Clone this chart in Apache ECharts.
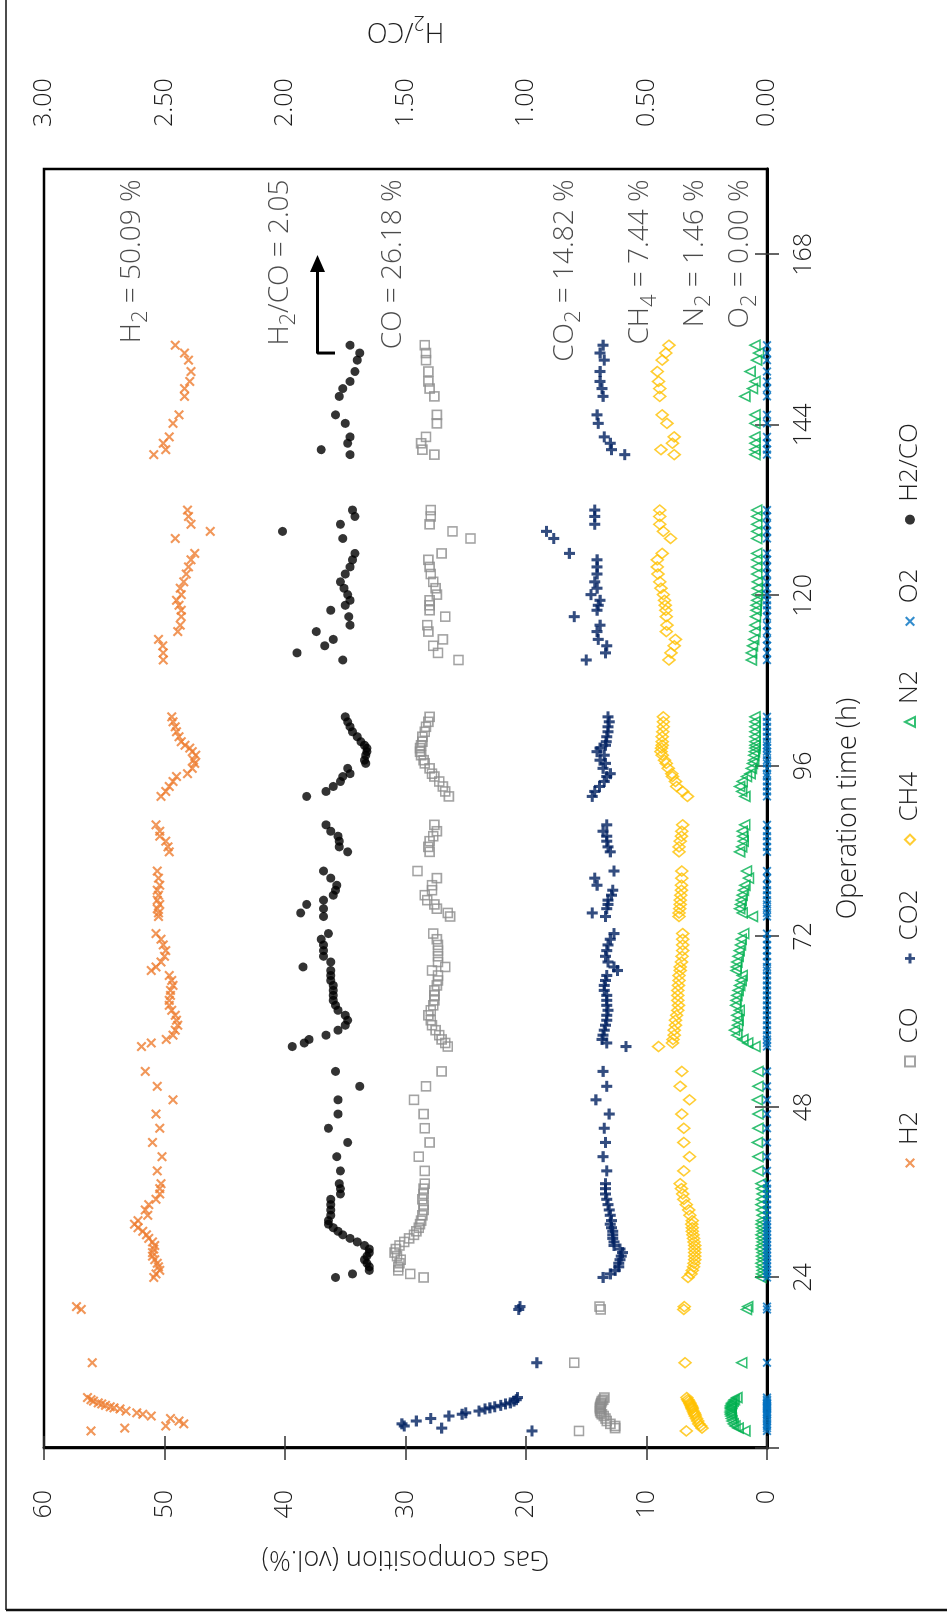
<!DOCTYPE html>
<html>
<head>
<meta charset="utf-8">
<script src="https://cdn.jsdelivr.net/npm/echarts@6/dist/echarts.min.js"></script>
<style>
  html, body { margin: 0; padding: 0; background: #fff; width: 947px; height: 1619px; overflow: hidden; }
  /* the chart is laid out landscape and turned a quarter turn counter-clockwise */
  #chart { position: absolute; left: 0; top: 0; width: 1619px; height: 947px;
           transform-origin: 0 0; transform: translate(0, 1619px) rotate(-90deg); }
</style>
</head>
<body>
<div id="chart"></div>
<script>
// Operation time of each gas sample (h)
const hours = [
  2.4, 2.8, 3.1, 3.4, 3.8, 4.15, 4.5, 4.75, 4.95, 5.2, 5.5, 5.65, 5.8, 6.0, 6.2, 6.35, 6.6, 6.8, 7.1,
  12.0, 19.5, 19.9,
  24.0, 24.5, 25.0, 25.5, 26.0, 26.5, 27.0, 27.5, 28.0, 28.5, 29.0, 29.5, 30.0, 30.5, 31.0, 31.5, 32.0, 32.75, 33.5, 34.25, 35.0, 35.75, 36.5, 37.2,
  39.0, 41.0, 43.0, 45.0, 47.0, 49.0, 50.9, 53.0,
  56.5, 57.0, 57.5, 58.1, 58.8, 59.5, 60.2, 60.9, 61.6, 62.3, 63.0, 63.7, 64.4, 65.1, 65.8, 66.5, 67.2, 67.7, 68.4, 69.2, 70.0, 70.8, 71.6, 72.4,
  74.8, 75.3, 75.9, 76.5, 77.1, 77.8, 78.5, 79.2, 80.2, 81.2,
  83.9, 84.6, 85.4, 86.1, 86.8, 87.7,
  91.7, 92.4, 93.1, 93.8, 94.5, 94.9, 95.65, 96.35, 96.8, 97.5, 98.0, 98.5, 98.9, 99.4, 100.1, 100.8, 101.5, 102.2, 102.9,
  110.9, 111.9, 112.9, 113.8, 114.9, 115.8, 117.0, 117.9, 118.6, 119.3, 120.1, 121.0, 121.9, 123.0, 124.0, 125.0, 125.9, 128.0, 129.0, 130.0, 131.1, 132.0,
  139.8, 140.5, 141.4, 142.3, 144.2, 145.4, 148.0, 149.1, 150.1, 151.5, 153.1, 154.1, 155.2
];

// Gas composition (vol.%)
const h2 = [
  56.1, 53.3, 49.9, 48.4, 48.8, 49.5, 51.1, 51.8, 52.3, 53.2, 53.7, 54.2, 54.5, 54.9, 55.2, 55.5, 55.9, 56.1, 56.4,
  56.0, 56.9, 57.3,
  50.9, 50.7, 50.4, 50.5, 50.6, 50.8, 51.0, 51.0, 50.9, 50.8, 51.0, 51.3, 51.5, 51.8, 52.2, 52.5, 52.2, 51.4, 51.6, 51.3, 50.7, 50.4, 50.4, 50.3,
  50.6, 50.2, 51.0, 50.4, 50.7, 49.3, 50.6, 51.6,
  51.9, 51.1, 49.85, 49.3, 49.1, 48.9, 49.0, 49.1, 49.4, 49.6, 49.6, 49.5, 49.5, 49.3, 49.4, 49.6, 51.1, 50.7, 50.3, 50.0, 49.9, 50.1, 50.3, 50.7,
  50.5, 50.5, 50.6, 50.4, 50.6, 50.5, 50.6, 50.4, 50.5, 50.6,
  49.6, 49.7, 49.9, 50.4, 50.4, 50.7,
  50.3, 49.9, 49.6, 49.3, 49.0, 48.1, 47.7, 47.5, 47.6, 47.4, 47.7, 47.9, 48.3, 48.6, 48.8, 49.0, 49.1, 49.3, 49.4,
  50.1, 50.1, 50.15, 50.5, 48.9, 48.7, 48.6, 48.6, 48.8, 49.0, 48.6, 48.7, 48.4, 48.2, 48.0, 47.8, 47.5, 49.1, 46.2, 47.8, 48.0, 48.1,
  50.9, 49.9, 50.1, 49.6, 49.3, 48.8, 48.35, 48.35, 47.9, 47.8, 48.0, 48.35, 49.1
];
const co = [
  15.6, 12.6, 12.6, 13.0, 13.3, 13.4, 13.55, 13.7, 13.8, 13.85, 13.85, 13.85, 13.85, 13.8, 13.8, 13.75, 13.7, 13.6, 13.5,
  16.0, 13.8, 13.9,
  28.5, 29.6, 30.6, 30.6, 30.5, 30.4, 30.7, 30.9, 30.8, 30.5, 30.1, 29.7, 29.3, 29.1, 28.9, 28.8, 28.7, 28.6, 28.5, 28.5, 28.6, 28.5, 28.5, 28.4,
  28.4, 28.9, 28.0, 28.4, 28.5, 29.3, 28.3, 27.0,
  26.5, 26.7, 27.0, 27.2, 27.5, 27.8, 27.9, 28.1, 27.9, 27.7, 27.6, 27.6, 27.6, 27.4, 27.3, 27.3, 27.8, 26.7, 27.3, 27.3, 27.3, 27.3, 27.4, 27.7,
  26.3, 26.5, 27.4, 27.6, 28.2, 28.4, 27.8, 27.8, 27.4, 29.0,
  28.0, 28.1, 28.0, 27.7, 27.4, 27.6,
  26.4, 26.7, 26.9, 27.2, 27.6, 27.8, 28.0, 28.4, 28.5, 28.7, 28.8, 28.8, 28.7, 28.6, 28.6, 28.4, 28.3, 28.1, 28.0,
  25.6, 27.3, 27.7, 26.9, 28.1, 28.2, 26.7, 28.0, 28.0, 28.0, 27.4, 27.5, 27.7, 27.9, 28.0, 28.1, 27.0, 24.6, 26.1, 28.0, 27.9, 27.9,
  27.6, 28.6, 28.7, 28.3, 27.4, 27.4, 27.6, 28.0, 28.1, 28.1, 28.3, 28.3, 28.4
];
const co2 = [
  19.5, 27.0, 30.1, 30.3, 29.1, 27.9, 26.4, 25.3, 25.0, 23.9, 23.4, 23.0, 22.6, 22.1, 21.7, 21.3, 21.0, 20.8, 20.7,
  19.1, 20.6, 20.5,
  13.6, 13.0, 12.6, 12.3, 12.3, 12.2, 12.1, 12.0, 12.2, 12.7, 12.7, 12.8, 12.8, 12.8, 12.9, 13.0, 12.9, 13.0, 13.1, 13.2, 13.3, 13.4, 13.4, 13.4,
  13.3, 13.6, 13.4, 13.5, 13.1, 14.2, 13.3, 13.6,
  11.7, 13.3, 13.7, 13.6, 13.5, 13.4, 13.3, 13.3, 13.2, 13.3, 13.3, 13.3, 13.5, 13.5, 13.4, 13.3, 12.4, 12.7, 13.2, 13.4, 13.3, 13.2, 13.0, 12.7,
  13.4, 14.5, 13.3, 13.2, 13.2, 12.9, 12.8, 14.1, 14.3, 12.7,
  13.0, 13.2, 13.3, 13.3, 13.6, 13.3,
  14.5, 14.3, 13.9, 13.5, 13.3, 13.0, 13.6, 13.4, 13.85, 13.5, 14.1, 13.85, 13.4, 13.35, 13.3, 13.2, 13.2, 13.1, 13.2,
  15.0, 13.4, 13.3, 14.0, 14.1, 13.85, 16.0, 14.1, 14.0, 13.85, 14.6, 14.1, 14.3, 14.1, 14.1, 14.1, 16.4, 17.7, 18.3, 14.3, 14.3, 14.3,
  11.8, 12.9, 13.0, 13.5, 14.0, 14.1, 13.6, 13.7, 13.85, 13.85, 13.5, 13.85, 13.6
];
const ch4 = [
  6.7, 5.4, 5.5, 5.66, 5.75, 5.85, 5.95, 6.0, 6.05, 6.13, 6.2, 6.23, 6.26, 6.3, 6.38, 6.42, 6.5, 6.58, 6.65,
  6.8, 6.9, 6.86,
  6.55, 6.3, 6.2, 6.1, 6.05, 6.0, 6.0, 6.0, 6.0, 6.0, 6.05, 6.1, 6.15, 6.2, 6.2, 6.25, 6.2, 6.4, 6.5, 6.7, 6.9, 7.0, 7.1, 7.2,
  6.9, 6.43, 6.9, 6.9, 7.07, 6.43, 7.2, 7.07,
  9.0, 7.85, 7.8, 7.7, 7.7, 7.6, 7.6, 7.5, 7.4, 7.35, 7.4, 7.4, 7.4, 7.35, 7.3, 7.3, 7.2, 7.2, 7.1, 7.05, 7.0, 7.0, 7.0, 7.0,
  7.3, 7.3, 7.25, 7.2, 7.2, 7.15, 7.1, 7.1, 7.07, 7.07,
  7.3, 7.3, 7.2, 7.1, 7.07, 7.0,
  6.6, 7.0, 7.5, 7.6, 7.85, 7.9, 8.2, 8.36, 8.5, 8.7, 8.8, 8.75, 8.7, 8.7, 8.7, 8.65, 8.6, 8.6, 8.6,
  8.14, 7.97, 7.7, 7.6, 8.36, 8.3, 8.36, 8.4, 8.45, 8.5, 8.6, 8.8, 8.9, 9.05, 9.1, 9.1, 8.7, 8.0, 8.6, 8.9, 8.9, 8.9,
  7.7, 8.8, 7.85, 7.7, 8.3, 8.7, 8.9, 8.9, 9.0, 9.1, 8.7, 8.4, 8.14
];
const n2 = [
  1.84, 2.4, 2.65, 2.8, 2.9, 2.95, 3.0, 3.02, 3.04, 3.04, 3.03, 3.02, 3.0, 3.0, 2.95, 2.9, 2.8, 2.7, 2.5,
  2.1, 1.7, 1.6,
  0.5, 0.45, 0.4, 0.45, 0.5, 0.4, 0.45, 0.4, 0.5, 0.45, 0.4, 0.45, 0.5, 0.4, 0.45, 0.5, 0.45, 0.4, 0.45, 0.5, 0.45, 0.4, 0.45, 0.5,
  0.75, 0.75, 0.8, 0.75, 0.75, 0.8, 0.75, 0.75,
  1.0, 1.6, 2.0, 2.5, 2.7, 2.45, 2.4, 2.5, 2.3, 2.6, 2.57, 2.5, 2.4, 2.27, 2.15, 2.06, 2.57, 2.55, 2.5, 2.4, 2.3, 2.2, 2.14, 1.93,
  1.2, 2.06, 2.27, 2.2, 2.14, 2.06, 1.95, 1.84, 1.54, 1.7,
  2.27, 2.1, 1.97, 2.0, 2.06, 1.85,
  1.84, 2.1, 2.27, 2.06, 1.7, 1.4, 1.3, 1.2, 1.1, 1.1, 1.05, 1.0, 1.0, 1.0, 1.0, 1.0, 1.0, 1.0, 1.0,
  1.3, 1.3, 1.2, 1.1, 1.0, 1.0, 0.95, 0.9, 0.9, 0.85, 0.8, 0.8, 0.8, 0.85, 0.85, 0.85, 0.85, 0.85, 0.85, 0.85, 0.85, 0.85,
  1.0, 1.0, 1.0, 1.0, 1.0, 1.0, 1.84, 1.2, 1.0, 1.4, 0.86, 0.7, 1.0
];
const o2 = [
  0, 0, 0, 0, 0, 0, 0, 0, 0, 0, 0, 0, 0, 0, 0, 0, 0, 0, 0,
  0, 0, 0,
  0, 0, 0, 0, 0, 0, 0, 0, 0, 0, 0, 0, 0, 0, 0, 0, 0, 0, 0, 0, 0, 0, 0, 0,
  0, 0, 0, 0, 0, 0, 0, 0,
  0, 0, 0, 0, 0, 0, 0, 0, 0, 0, 0, 0, 0, 0, 0, 0, 0, 0, 0, 0, 0, 0, 0, 0,
  0, 0, 0, 0, 0, 0, 0, 0, 0, 0,
  0, 0, 0, 0, 0, 0,
  0, 0, 0, 0, 0, 0, 0, 0, 0, 0, 0, 0, 0, 0, 0, 0, 0, 0, 0,
  0, 0, 0, 0, 0, 0, 0, 0, 0, 0, 0, 0, 0, 0, 0, 0, 0, 0, 0, 0, 0, 0,
  0, 0, 0, 0, 0, 0, 0, 0, 0, 0, 0, 0, 0
];
// H2/CO ratio (right axis); no ratio logged for the start-up samples
const h2co = [
  null, null, null, null, null, null, null, null, null, null, null, null, null, null, null, null, null, null, null,
  null, null, null,
  1.79, 1.72, 1.65, 1.65, 1.66, 1.67, 1.66, 1.65, 1.65, 1.67, 1.70, 1.73, 1.76, 1.78, 1.80, 1.82, 1.82, 1.81, 1.81, 1.81, 1.81, 1.77, 1.77, 1.775,
  1.77, 1.785, 1.74, 1.82, 1.78, 1.78, 1.69, 1.79,
  1.97, 1.92, 1.90, 1.83, 1.78, 1.75, 1.74, 1.75, 1.78, 1.79, 1.80, 1.80, 1.80, 1.80, 1.81, 1.81, 1.81, 1.925, 1.81, 1.84, 1.84, 1.84, 1.85, 1.82,
  1.84, 1.935, 1.84, 1.91, 1.84, 1.80, 1.79, 1.785, 1.81, 1.84,
  1.74, 1.775, 1.775, 1.78, 1.81, 1.83,
  1.91, 1.83, 1.80, 1.77, 1.76, 1.73, 1.74, 1.665, 1.67, 1.665, 1.66, 1.66, 1.67, 1.685, 1.70, 1.72, 1.73, 1.74, 1.75,
  1.76, 1.95, 1.835, 1.80, 1.87, 1.73, 1.735, 1.81, 1.75, 1.73, 1.74, 1.755, 1.77, 1.75, 1.73, 1.72, 1.71, 1.76, 2.01, 1.77, 1.71, 1.72,
  1.73, 1.85, 1.74, 1.73, 1.75, 1.79, 1.775, 1.76, 1.73, 1.71, 1.70, 1.69, 1.73
];

// Axis tick values
const timeTicks = [0, 24, 48, 72, 96, 120, 144, 168];
const timeLabels = [24, 48, 72, 96, 120, 144, 168];

// Average composition notes: [rich text, value on the gas axis]
const notes = [
  ['{m|H}{s|2}{m| = 50.09 %}', 52.7],
  ['{m|H}{s|2}{m|/CO = 2.05}', 40.4],
  ['{m|CO = 26.18 %}', 31.0],
  ['{m|CO}{s|2}{m| = 14.82 %}', 16.8],
  ['{m|CH}{s|4}{m| = 7.44 %}', 10.5],
  ['{m|N}{s|2}{m| = 1.46 %}', 6.0],
  ['{m|O}{s|2}{m| = 0.00 %}', 2.2]
];
const noteTime = 178.6;

// Bent pointer from the H2/CO points towards its note
const pointerPath = [[154.1, 35.85], [154.1, 37.3], [166.7, 37.3]];

const FONT = "'Open Sans', 'DejaVu Sans', sans-serif";
const INK = '#1e1e1e';
const pair = (ys) => hours.map((t, i) => [t, ys[i]]).filter(p => p[1] !== null);

// marker outlines
const crossPath = 'path://M1.5,0L5,3.5L8.5,0L10,1.5L6.5,5L10,8.5L8.5,10L5,6.5L1.5,10L0,8.5L3.5,5L0,1.5Z';
const plusPath = 'path://M3.6,0H6.4V3.6H10V6.4H6.4V10H3.6V6.4H0V3.6H3.6Z';
const hollow = (c) => ({ color: 'rgba(0,0,0,0)', borderColor: c, borderWidth: 1.6 });

const chart = echarts.init(document.getElementById('chart'), null, { renderer: 'canvas', width: 1619, height: 947 });

const subRich = {
  m: { fontSize: 28, lineHeight: 40, color: INK, fontFamily: FONT, fontWeight: 300 },
  s: { fontSize: 22, lineHeight: 22, verticalAlign: 'bottom', color: INK, fontFamily: FONT, fontWeight: 300 }
};

chart.setOption({
  animation: false,
  backgroundColor: '#fff',
  textStyle: { fontFamily: FONT, color: INK },
  grid: { left: 171, right: 169, top: 44, bottom: 180, show: true, borderColor: '#000', borderWidth: 2.5, backgroundColor: 'rgba(0,0,0,0)' },
  legend: {
    data: ['H2', 'CO', 'CO2', 'CH4', 'N2', 'O2', 'H2/CO'],
    left: 446, top: 892, itemWidth: 10, itemHeight: 10, itemGap: 44,
    textStyle: { fontSize: 26, color: INK, fontFamily: FONT, fontWeight: 300, padding: [0, 0, 0, 8] }
  },
  xAxis: [
    {
      type: 'value', min: 0, max: 180, interval: 24, position: 'bottom',
      name: 'Operation time (h)', nameLocation: 'middle', nameGap: 68,
      nameTextStyle: { fontSize: 27, color: INK, fontFamily: FONT, fontWeight: 300, verticalAlign: 'top' },
      axisLine: { show: true, onZero: false, lineStyle: { color: '#000', width: 3 } },
      axisTick: { show: true, length: 12, customValues: timeTicks, lineStyle: { color: '#333', width: 1.5 } },
      axisLabel: { customValues: timeLabels, fontSize: 25, margin: 24, color: INK, fontFamily: FONT, fontWeight: 300 },
      splitLine: { show: false }
    },
    {
      type: 'value', min: 0, max: 180, interval: 24, position: 'bottom',
      axisLine: { show: false },
      axisTick: { show: true, inside: true, length: 12, customValues: timeTicks, lineStyle: { color: '#333', width: 1.5 } },
      axisLabel: { show: false },
      splitLine: { show: false }
    }
  ],
  yAxis: [
    {
      type: 'value', min: 0, max: 60, interval: 10, position: 'left',
      name: 'Gas composition (vol.%)', nameLocation: 'middle', nameRotate: 90, nameGap: 97,
      nameTextStyle: { fontSize: 27, color: INK, fontFamily: FONT, fontWeight: 300 },
      axisLine: { show: true, lineStyle: { color: '#000', width: 2.5 } },
      axisTick: { show: true, length: 12, lineStyle: { color: '#333', width: 1.5 } },
      axisLabel: { fontSize: 25, margin: 42, color: INK, fontFamily: FONT, fontWeight: 300 },
      splitLine: { show: false }
    },
    {
      type: 'value', min: 0, max: 3, interval: 0.5, position: 'right',
      name: '{m|H}{s|2}{m|/CO}', nameLocation: 'middle', nameRotate: 90, nameGap: 119,
      nameTextStyle: {
        rich: {
          m: { fontSize: 27, lineHeight: 38, color: INK, fontFamily: FONT, fontWeight: 300 },
          s: { fontSize: 20, lineHeight: 20, verticalAlign: 'bottom', color: INK, fontFamily: FONT, fontWeight: 300 }
        }
      },
      axisLine: { show: true, lineStyle: { color: '#000', width: 2.5 } },
      axisTick: { show: true, length: 12, lineStyle: { color: '#333', width: 1.5 } },
      axisLabel: { fontSize: 25, margin: 42, color: INK, fontFamily: FONT, fontWeight: 300, formatter: (v) => v.toFixed(2) },
      splitLine: { show: false }
    }
  ],
  graphic: [
    { type: 'line', shape: { x1: 9, y1: 6, x2: 1619, y2: 6 }, style: { stroke: '#111', lineWidth: 1.5 }, silent: true },
    { type: 'line', shape: { x1: 9, y1: 6, x2: 9, y2: 947 }, style: { stroke: '#111', lineWidth: 2.5 }, silent: true }
  ],
  series: [
    { name: 'H2', type: 'scatter', data: pair(h2), symbol: crossPath, symbolSize: 10, itemStyle: { color: '#ED7D31' }, z: 3 },
    { name: 'CO', type: 'scatter', data: pair(co), symbol: 'rect', symbolSize: 9, itemStyle: hollow('#8C8C8C'), z: 3 },
    { name: 'CO2', type: 'scatter', data: pair(co2), symbol: plusPath, symbolSize: 11, itemStyle: { color: '#002060' }, z: 3 },
    { name: 'CH4', type: 'scatter', data: pair(ch4), symbol: 'diamond', symbolSize: [10, 12], itemStyle: hollow('#FFC000'), z: 3 },
    { name: 'N2', type: 'scatter', data: pair(n2), symbol: 'triangle', symbolSize: 10, itemStyle: hollow('#00B050'), z: 3 },
    { name: 'O2', type: 'scatter', data: pair(o2), symbol: crossPath, symbolSize: 9, itemStyle: { color: '#0070C0' }, z: 4 },
    { name: 'H2/CO', type: 'scatter', yAxisIndex: 1, data: pair(h2co), symbol: 'circle', symbolSize: 9, itemStyle: { color: '#000' }, z: 4 },
    {
      name: 'pointer', type: 'line', silent: true, z: 5,
      data: pointerPath.map((p, i) => i === pointerPath.length - 1
        ? { value: p, symbol: 'triangle', symbolSize: [15, 17], symbolRotate: -90 }
        : { value: p }),
      symbol: 'none', showSymbol: true,
      lineStyle: { color: '#000', width: 3 }, itemStyle: { color: '#000' }
    },
    {
      name: 'notes', type: 'scatter', silent: true, z: 6,
      symbolSize: 1, itemStyle: { color: 'rgba(0,0,0,0)' },
      data: notes.map(([txt, v]) => ({
        value: [noteTime, v],
        label: { show: true, position: 'left', distance: 0, formatter: txt, rich: subRich }
      }))
    }
  ]
});
</script>
</body>
</html>
